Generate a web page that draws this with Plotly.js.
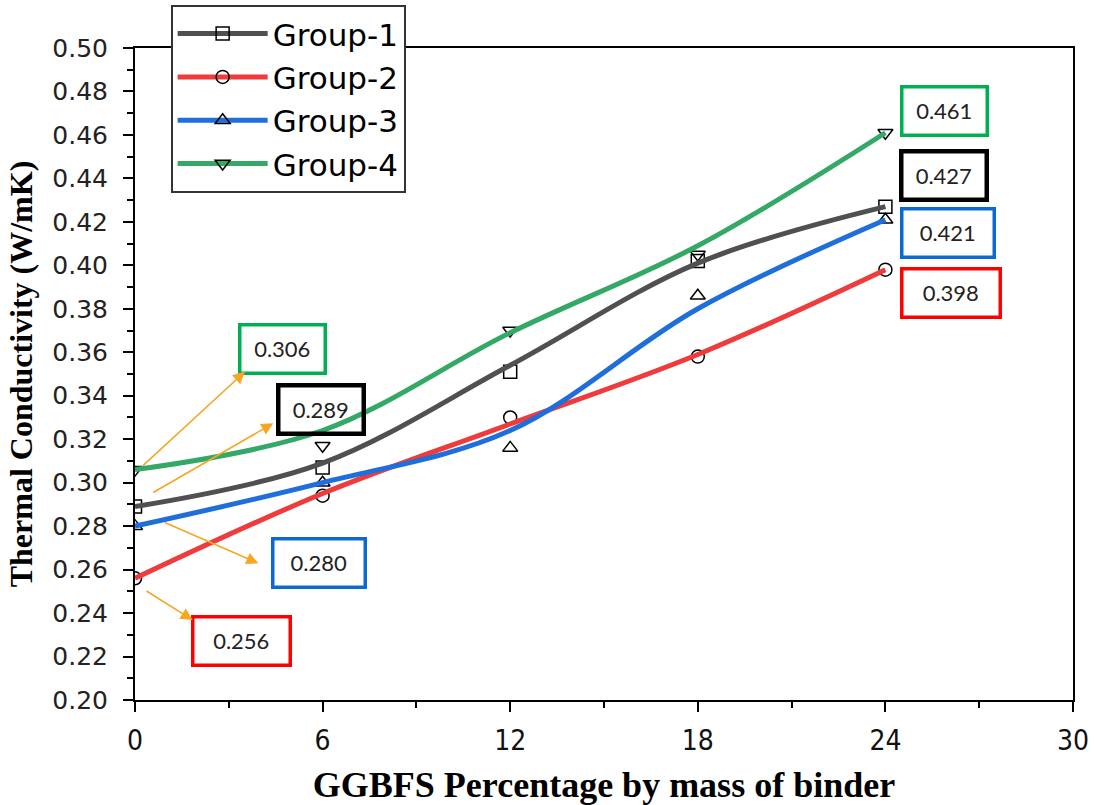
<!DOCTYPE html>
<html><head><meta charset="utf-8">
<script src="https://cdn.plot.ly/plotly-3.0.1.min.js"></script>
<style>html,body{margin:0;padding:0;background:#fff}#chart{width:1094px;height:805px}</style>
</head><body><div id="chart"></div>
<script>
// ---- data ----
const xValues = [0, 6, 12, 18, 24];
const groupNames = ['Group-1', 'Group-2', 'Group-3', 'Group-4'];
// measured values (symbols)
const group1 = [0.289, 0.307, 0.351, 0.402, 0.427];
const group2 = [0.256, 0.294, 0.330, 0.358, 0.398];
const group3 = [0.280, 0.300, 0.316, 0.386, 0.421];
const group4 = [0.306, 0.317, 0.370, 0.405, 0.461];
// smoothed fit curves, read at the same x positions
const fit1 = [0.289, 0.309, 0.354, 0.401, 0.427];
const fit2 = [0.256, 0.295, 0.327, 0.359, 0.398];
const fit3 = [0.280, 0.300, 0.324, 0.380, 0.421];
const fit4 = [0.306, 0.324, 0.369, 0.409, 0.461];
const xTickVals = [0, 6, 12, 18, 24, 30];

// ---- styles ----
const colors = ['#505050', '#EF3B3B', '#1E6FDC', '#34A865'];
const symbols = ['square-open', 'circle-open', 'triangle-up-open', 'triangle-down-open'];
const measured = [group1, group2, group3, group4];
const fits = [fit1, fit2, fit3, fit4];

const traces = [];
for (let i = 0; i < 4; i++) {
  traces.push({
    x: xValues, y: measured[i], type: 'scatter', mode: 'markers', showlegend: false,
    marker: {symbol: symbols[i], size: 13, color: '#000', line: {width: 1.5, color: '#000'}},
    hoverinfo: 'skip'
  });
}
for (let i = 0; i < 4; i++) {
  traces.push({
    x: xValues, y: fits[i], type: 'scatter', mode: 'lines', showlegend: false,
    line: {color: colors[i], width: 5, shape: 'spline', smoothing: 1}
  });
}
for (let i = 0; i < 4; i++) {
  traces.push({
    x: [null], y: [null], type: 'scatter', mode: 'lines+markers', name: groupNames[i],
    legendgroup: 'g' + i,
    line: {color: colors[i], width: 5},
    marker: {symbol: symbols[i], size: 13, color: '#000', line: {width: 1.5, color: '#000'}}
  });
}

const boxFont = {family: 'Lato, "Open Sans", sans-serif', size: 22, color: '#222'};
const boxes = [
  {v: group4[0], x: 4.72, y: 0.3616, c: '#00B050', w: 85, bw: 3.5},
  {v: group1[0], x: 5.94, y: 0.3338, c: '#000000', w: 85, bw: 4.5},
  {v: group3[0], x: 5.89, y: 0.2629, c: '#0A6AD2', w: 92, bw: 3.5},
  {v: group2[0], x: 3.41, y: 0.2271, c: '#FF0000', w: 97, bw: 3.5},
  {v: group4[4], x: 25.88, y: 0.4711, c: '#00B050', w: 85, bw: 3.5},
  {v: group1[4], x: 25.88, y: 0.4412, c: '#000000', w: 85, bw: 4.5},
  {v: group3[4], x: 25.99, y: 0.4151, c: '#0A6AD2', w: 92, bw: 3.5},
  {v: group2[4], x: 26.09, y: 0.3874, c: '#FF0000', w: 98, bw: 3.5}
];
const annotations = boxes.map(b => ({
  x: b.x, y: b.y, xref: 'x', yref: 'y', text: b.v.toFixed(3), showarrow: false,
  font: boxFont, bordercolor: b.c, borderwidth: b.bw, borderpad: 2,
  width: b.w - 4 - b.bw, height: 48 - 4 - b.bw, align: 'center', valign: 'middle'
}));
const arrows = [
  {tx: 0.214, ty: 0.3073, hx: 3.518, hy: 0.3511},
  {tx: 0.534, ty: 0.2951, hx: 4.423, hy: 0.3273},
  {tx: 0.905, ty: 0.2820, hx: 3.944, hy: 0.2629},
  {tx: 0.320, ty: 0.2506, hx: 1.845, hy: 0.2368}
];
arrows.forEach(a => annotations.push({
  x: a.hx, y: a.hy, ax: a.tx, ay: a.ty, xref: 'x', yref: 'y', axref: 'x', ayref: 'y',
  text: '', showarrow: true, arrowhead: 2, arrowsize: 1.5, arrowwidth: 1.6,
  arrowcolor: '#F5A623', standoff: 0, startstandoff: 0
}));

const layout = {
  width: 1094, height: 805,
  margin: {l: 135, r: 21, t: 48, b: 105, autoexpand: false},
  paper_bgcolor: '#fff', plot_bgcolor: '#fff',
  showlegend: true,
  legend: {
    x: 0.038, y: 1.066, xanchor: 'left', yanchor: 'top',
    bgcolor: '#fff', bordercolor: '#333', borderwidth: 2,
    font: {family: '"DejaVu Sans", sans-serif', size: 31, color: '#000'},
    itemwidth: 90, traceorder: 'grouped', tracegroupgap: 0
  },
  xaxis: {
    range: [0, 30], tickvals: xTickVals, ticktext: xTickVals.map(String),
    ticks: 'outside', ticklen: 10, tickwidth: 2, tickcolor: '#000',
    showline: true, linewidth: 2, linecolor: '#000', mirror: true,
    showgrid: false, zeroline: false, automargin: false,
    ticklabelstandoff: 4,
    tickfont: {family: '"Liberation Sans Narrow", "DejaVu Sans Condensed", "Arial Narrow", "Liberation Sans", sans-serif', size: 28, color: '#111'},
    minor: {dtick: 3, tick0: 0, ticks: 'outside', ticklen: 6, tickwidth: 2, tickcolor: '#000', showgrid: false},
    title: {text: 'GGBFS Percentage by mass of binder', standoff: 20,
      font: {family: '"Liberation Serif", "Times New Roman", serif', size: 36, color: '#000', weight: 'bold'}}
  },
  yaxis: {
    range: [0.2, 0.5], tick0: 0.2, dtick: 0.02, tickformat: '.2f',
    ticks: 'outside', ticklen: 10, tickwidth: 2, tickcolor: '#000',
    showline: true, linewidth: 2, linecolor: '#000', mirror: true,
    showgrid: false, zeroline: false, automargin: false,
    ticklabelstandoff: 10,
    tickfont: {family: '"DejaVu Sans", sans-serif', size: 25, color: '#222'},
    minor: {dtick: 0.01, tick0: 0.2, ticks: 'outside', ticklen: 6, tickwidth: 2, tickcolor: '#000', showgrid: false},
    title: {text: 'Thermal Conductivity (W/mK)', standoff: 10,
      font: {family: '"Liberation Serif", "Times New Roman", serif', size: 32, color: '#000', weight: 'bold'}}
  },
  annotations: annotations
};
Plotly.newPlot('chart', traces, layout, {displayModeBar: false, staticPlot: true});
</script>
</body></html>
